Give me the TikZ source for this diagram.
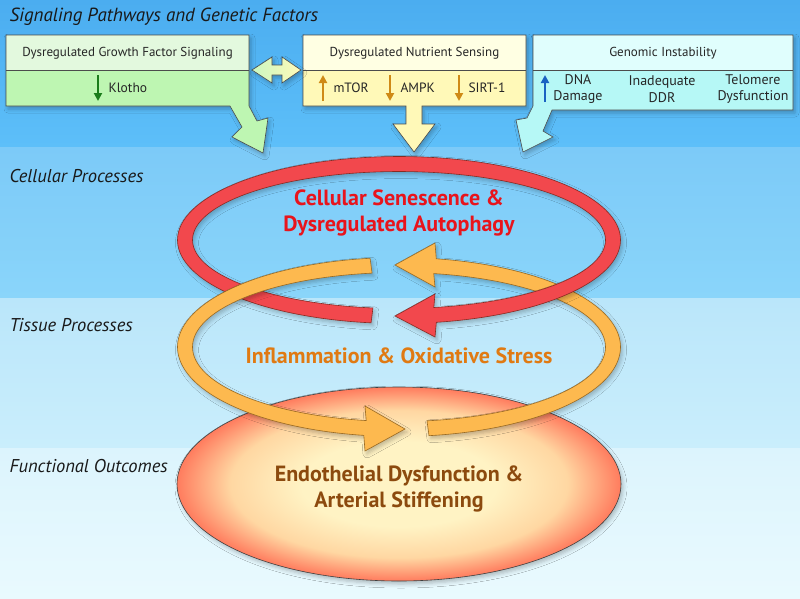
\documentclass[tikz,border=0pt]{standalone}
\usepackage{fontspec}
\setmainfont{PT Sans}
\usetikzlibrary{arrows.meta,shadows.blur}
\definecolor{bandAt}{HTML}{4BADF0}
\definecolor{bandAb}{HTML}{5DBFF9}
\definecolor{bandBt}{HTML}{7CCAF8}
\definecolor{bandBb}{HTML}{8AD5FA}
\definecolor{bandCt}{HTML}{BAE6FA}
\definecolor{bandCb}{HTML}{CAEEFC}
\definecolor{bandDt}{HTML}{DCF4FD}
\definecolor{bandDb}{HTML}{E9FAFE}
\definecolor{gTop}{HTML}{E3F9DE}
\definecolor{gBot}{HTML}{BEF6B2}
\definecolor{yTop}{HTML}{FFFFE3}
\definecolor{yBot}{HTML}{FFF9B8}
\definecolor{cTop}{HTML}{E0FEFD}
\definecolor{cBot}{HTML}{B6F8F6}
\definecolor{gArr}{HTML}{1B7D1B}
\definecolor{oArr}{HTML}{CF8A16}
\definecolor{bArr}{HTML}{1A62C2}
\definecolor{redF}{HTML}{F2484D}
\definecolor{redL}{HTML}{8A2A22}
\definecolor{orF}{HTML}{FDB94F}
\definecolor{orL}{HTML}{9A6A22}
\definecolor{redT}{HTML}{E8141C}
\definecolor{orT}{HTML}{E07A12}
\definecolor{brT}{HTML}{8C4A0E}
\definecolor{ecenter}{HTML}{FFF3C4}
\definecolor{emid}{HTML}{FFD7A2}
\definecolor{eedge}{HTML}{FF7C5E}
\pgfdeclareradialshading{ellshade}{\pgfpoint{0bp}{0bp}}{color(0bp)=(ecenter); color(11bp)=(ecenter); color(19bp)=(emid); color(25bp)=(eedge); color(50bp)=(eedge)}
\tikzset{
  boxline/.style={draw=black!70, line width=0.6pt, line join=miter},
  softshadow/.style={blur shadow={shadow xshift=2pt, shadow yshift=-3pt, shadow blur radius=4pt, shadow opacity=25}},
  boxtext/.style={font=\fontsize{13}{15}\selectfont, text=black!85},
  rowtext/.style={font=\fontsize{13.5}{15}\selectfont, text=black!85, align=center},
  sectlabel/.style={anchor=west, font=\itshape\fontsize{18.5}{21}\selectfont, text=black!90},
  smallarrow/.style={-{Triangle[length=8pt,width=8pt]}, line width=2pt},
  ringline/.style={line width=0.6pt, line join=miter},
  looptext/.style={font=\bfseries\fontsize{22}{26}\selectfont, align=center}
}
\begin{document}
\begin{tikzpicture}[x=1pt,y=-1pt]
\useasboundingbox (0,0) rectangle (800,598);
% bands
\shade[top color=bandAt, bottom color=bandAb] (0,0) rectangle (800,147);
\shade[top color=bandBt, bottom color=bandBb] (0,147) rectangle (800,298);
\shade[top color=bandCt, bottom color=bandCb] (0,298) rectangle (800,448);
\shade[top color=bandDt, bottom color=bandDb] (0,448) rectangle (800,598);
% section labels
\node[anchor=west, font=\itshape\fontsize{19}{22}\selectfont, text=black!90] (title) at (6,17) {Signaling Pathways and Genetic Factors};
\node[sectlabel] (lcell) at (6,176) {Cellular Processes};
\node[sectlabel] (ltis) at (6,325) {Tissue Processes};
\node[sectlabel] (lfun) at (6,466) {Functional Outcomes};
% box 1
\path[fill=gBot, softshadow] (6,35) -- (249,35) -- (249,106) -- (257,121) -- (268,118) -- (263,153) -- (232,137) -- (242,127) -- (230,106) -- (6,106) -- cycle;
\fill[gTop] (6,35) rectangle (249,70);
\path[boxline] (6,35) -- (249,35) -- (249,106) -- (257,121) -- (268,118) -- (263,153) -- (232,137) -- (242,127) -- (230,106) -- (6,106) -- cycle;
\draw[boxline] (6,70) -- (249,70);
% box 2
\path[fill=yBot, softshadow] (303,35) -- (526,35) -- (526,106) -- (422,106) -- (422,124) -- (435,124) -- (414,152) -- (393,124) -- (406,124) -- (406,106) -- (303,106) -- cycle;
\fill[yTop] (303,35) rectangle (526,70);
\path[boxline] (303,35) -- (526,35) -- (526,106) -- (422,106) -- (422,124) -- (435,124) -- (414,152) -- (393,124) -- (406,124) -- (406,106) -- (303,106) -- cycle;
\draw[boxline] (303,70) -- (526,70);
% box 3
\path[fill=cBot, softshadow] (533,35) -- (793,35) -- (793,110) -- (552,110) -- (543,131) -- (553,137) -- (523,152) -- (516,120) -- (527,118) -- (533,106) -- cycle;
\fill[cTop] (533,35) rectangle (793,70);
\path[boxline] (533,35) -- (793,35) -- (793,110) -- (552,110) -- (543,131) -- (553,137) -- (523,152) -- (516,120) -- (527,118) -- (533,106) -- cycle;
\draw[boxline] (533,70) -- (793,70);
% double arrow
\path[boxline, left color=gBot!80!white, right color=yBot, softshadow] (252,70) -- (272,57) -- (272,65) -- (282,65) -- (282,57) -- (301,70) -- (282,83) -- (282,75) -- (272,75) -- (272,83) -- cycle;
% box texts
\node[boxtext] (h1) at (127.5,53) {Dysregulated Growth Factor Signaling};
\node[boxtext] (h2) at (414.5,53) {Dysregulated Nutrient Sensing};
\node[boxtext] (h3) at (663,53) {Genomic Instability};
\coordinate (k1) at (98,75); \coordinate (k2) at (98,101);
\draw[smallarrow, gArr] (k1) -- (k2);
\node[rowtext, anchor=west] (klotho) at (105,88) {Klotho};
\coordinate (m1) at (323,101); \coordinate (m2) at (323,75);
\draw[smallarrow, oArr] (m1) -- (m2);
\node[rowtext, anchor=west] (mtor) at (330,88) {mTOR};
\coordinate (a1) at (390,75); \coordinate (a2) at (390,101);
\draw[smallarrow, oArr] (a1) -- (a2);
\node[rowtext, anchor=west] (ampk) at (397,88) {AMPK};
\coordinate (s1) at (459,75); \coordinate (s2) at (459,101);
\draw[smallarrow, oArr] (s1) -- (s2);
\node[rowtext, anchor=west] (sirt) at (465,88) {SIRT-1};
\coordinate (d1) at (545,102); \coordinate (d2) at (545,75);
\draw[smallarrow, bArr] (d1) -- (d2);
\node[rowtext, font=\fontsize{14}{16.5}\selectfont] (dna) at (578,89) {DNA\\Damage};
\node[rowtext, font=\fontsize{14}{16.5}\selectfont] (ddr) at (662,89) {Inadequate\\DDR};
\node[rowtext, font=\fontsize{14}{16.5}\selectfont] (telo) at (753,89) {Telomere\\Dysfunction};
% big ellipse
\path[draw=black!75, line width=0.6pt, shading=ellshade, softshadow] (399,484) ellipse [x radius=222, y radius=97];
\node[looptext, text=brT] (endo) at (399,489) {Endothelial Dysfunction \&\\Arterial Stiffening};
% orange arrow B (under red)
\path[fill=orF, draw=orL, ringline, softshadow]
  plot[domain=82.21:-80.32, samples=90] ({399+221.5*cos(\x)},{347+89.5*sin(\x)})
  -- (435,243) -- (395,265) -- (435,287)
  -- plot[domain=-80.32:82.21, samples=90] ({399+206.5*cos(\x)},{347+74.5*sin(\x)}) -- cycle;
% red arrow
\path[fill=redF, draw=redL, ringline, softshadow]
  plot[domain=97.25:440.3, samples=180] ({399+221.5*cos(\x)},{240+83.5*sin(\x)})
  -- (435,337) -- (395,316) -- (435,294)
  -- plot[domain=440.3:97.25, samples=180] ({399+206.5*cos(\x)},{240+68.5*sin(\x)}) -- cycle;
% orange arrow A (over red)
\path[fill=orF, draw=orL, ringline, softshadow]
  plot[domain=262.5:99.14, samples=90] ({399+221.5*cos(\x)},{347+89.5*sin(\x)})
  -- (365,451) -- (405,429) -- (365,406)
  -- plot[domain=99.14:262.5, samples=90] ({399+206.5*cos(\x)},{347+74.5*sin(\x)}) -- cycle;
% loop texts
\node[looptext, text=redT] (cellsen) at (399,213) {Cellular Senescence \&\\Dysregulated Autophagy};
\node[looptext, text=orT] (inflam) at (399,356) {Inflammation \& Oxidative Stress};
\end{tikzpicture}
\end{document}
